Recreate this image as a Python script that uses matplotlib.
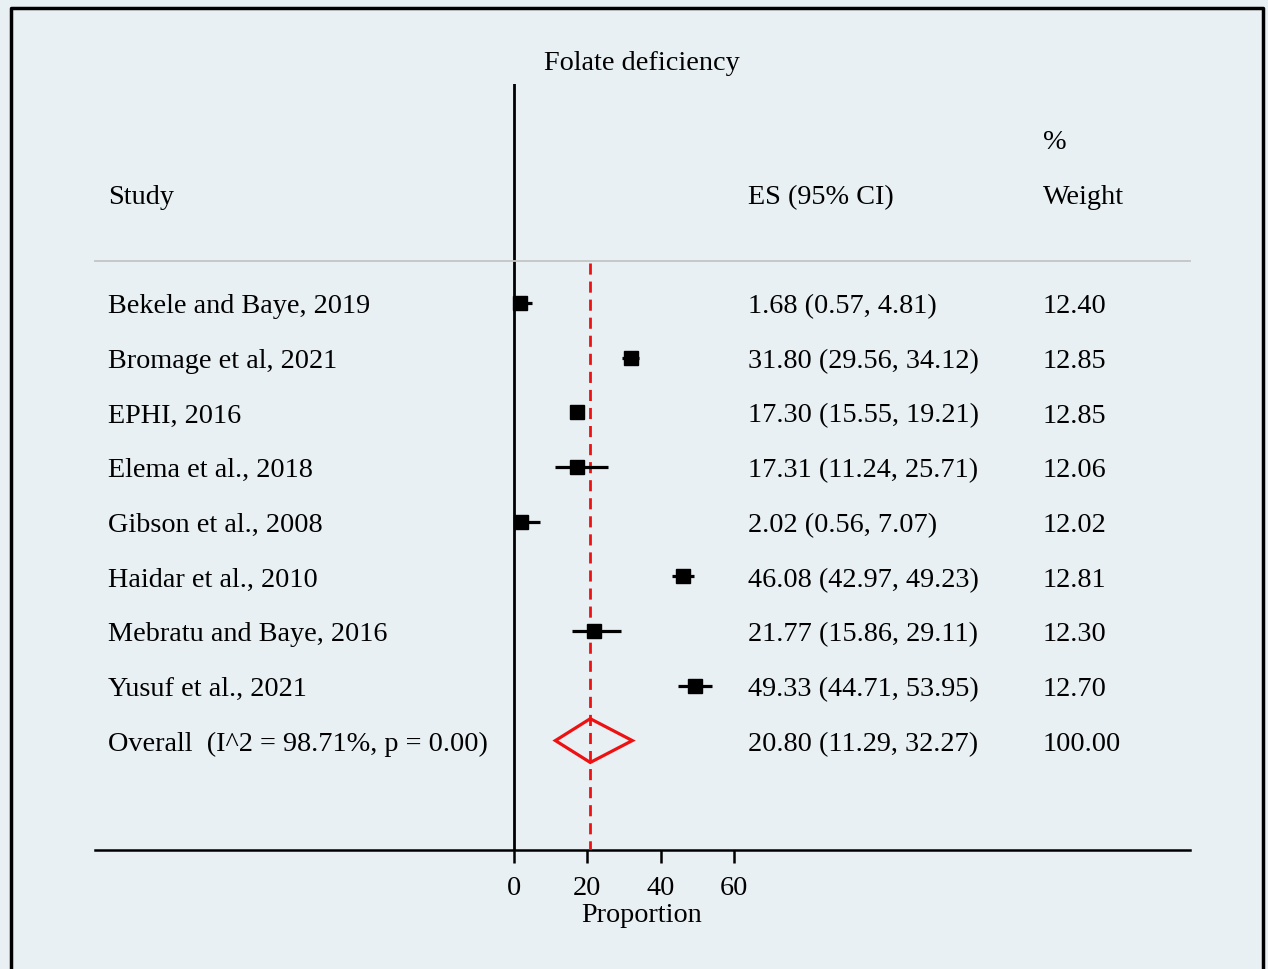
import matplotlib
matplotlib.use("Agg")
import matplotlib.pyplot as plt
from matplotlib.lines import Line2D
from matplotlib.patches import Polygon
from matplotlib.transforms import blended_transform_factory

studies = ["Bekele and Baye, 2019", "Bromage et al, 2021", "EPHI, 2016",
           "Elema et al., 2018", "Gibson et al., 2008", "Haidar et al., 2010",
           "Mebratu and Baye, 2016", "Yusuf et al., 2021"]
es = [1.68, 31.80, 17.30, 17.31, 2.02, 46.08, 21.77, 49.33]
lo = [0.57, 29.56, 15.55, 11.24, 0.56, 42.97, 15.86, 44.71]
hi = [4.81, 34.12, 19.21, 25.71, 7.07, 49.23, 29.11, 53.95]
weights = [12.40, 12.85, 12.85, 12.06, 12.02, 12.81, 12.30, 12.70]
overall = (20.80, 11.29, 32.27)
overall_label = "Overall  (I^2 = 98.71%, p = 0.00)"
xticks = [0, 20, 40, 60]

bg = "#e8f0f3"
plt.rcParams["font.family"] = ["Liberation Serif", "DejaVu Serif"]
fs = 20.3

fig = plt.figure(figsize=(12.68, 9.70), dpi=100)
fig.patch.set_facecolor(bg)
ax = fig.add_axes([95 / 1268, 1 - 851 / 970, 1095 / 1268, 766 / 970])
ax.set_facecolor(bg)
ax.set_xlim(-114.3, 184.4)
ax.set_ylim(10, -4)

for s in ["top", "left", "right"]:
    ax.spines[s].set_visible(False)
ax.spines["bottom"].set_linewidth(1.8)
ax.set_yticks([])
ax.set_xticks(xticks)
ax.tick_params(axis="x", direction="out", length=9, width=1.8, labelsize=fs, pad=9)
ax.set_xlabel("Proportion", fontsize=fs, labelpad=0)
ax.xaxis.set_label_coords((642 - 95) / 1095, -0.068)

# null line at zero and pooled estimate line
ax.plot([0, 0], [-4, 10], color="black", lw=2.0, zorder=2)
ax.plot([overall[0], overall[0]], [-0.72, 10], color="#ee1111", lw=2.0,
        dashes=(4, 2.5), zorder=3)

# header separator
ax.plot([-114.3, 184.4], [-0.77, -0.77], color="#c4c4c4", lw=1.3, clip_on=False)

# study estimates
wmax = max(weights)
for i, (e, l, h, w) in enumerate(zip(es, lo, hi, weights)):
    ax.plot([l, h], [i, i], color="black", lw=2.3, zorder=4, solid_capstyle="butt")
    ax.plot(e, i, marker="s", color="black", ms=10 * (w / wmax) ** 0.5, zorder=5)

# pooled diamond
yo = len(studies)
dh = 0.4
ax.add_patch(Polygon([[overall[1], yo], [overall[0], yo - dh], [overall[2], yo],
                      [overall[0], yo + dh]], closed=True, fill=False,
                     edgecolor="#ee1111", lw=2.3, zorder=5))

tr = blended_transform_factory(fig.transFigure, ax.transData)
xs, xe, xw = 108 / 1268, 748 / 1268, 1043 / 1268
labels = studies + [overall_label]
es_txt = ["%.2f (%.2f, %.2f)" % t for t in zip(es, lo, hi)] + \
         ["%.2f (%.2f, %.2f)" % overall]
w_txt = ["%.2f" % w for w in weights] + ["100.00"]
for i in range(len(labels)):
    yy = i + 0.05
    ax.text(xs, yy, labels[i], transform=tr, fontsize=fs, va="center", ha="left")
    ax.text(xe, yy, es_txt[i], transform=tr, fontsize=fs, va="center", ha="left")
    ax.text(xw, yy, w_txt[i], transform=tr, fontsize=fs, va="center", ha="left")

ax.text(xs, -1.95, "Study", transform=tr, fontsize=fs, va="center")
ax.text(xe, -1.95, "ES (95% CI)", transform=tr, fontsize=fs, va="center")
ax.text(xw, -1.95, "Weight", transform=tr, fontsize=fs, va="center")
ax.text(xw, -2.95, "%", transform=tr, fontsize=fs, va="center")
fig.text(642 / 1268, 1 - 63 / 970, "Folate deficiency", fontsize=fs,
         ha="center", va="center")

# outer frame
fx = [11 / 1268, 11 / 1268, 1263 / 1268, 1263 / 1268]
fy = [0, 1 - 9 / 970, 1 - 9 / 970, 0]
fig.add_artist(Line2D(fx, fy, transform=fig.transFigure, color="black", lw=2.5))

fig.savefig("out.png", dpi=100, facecolor=bg)
